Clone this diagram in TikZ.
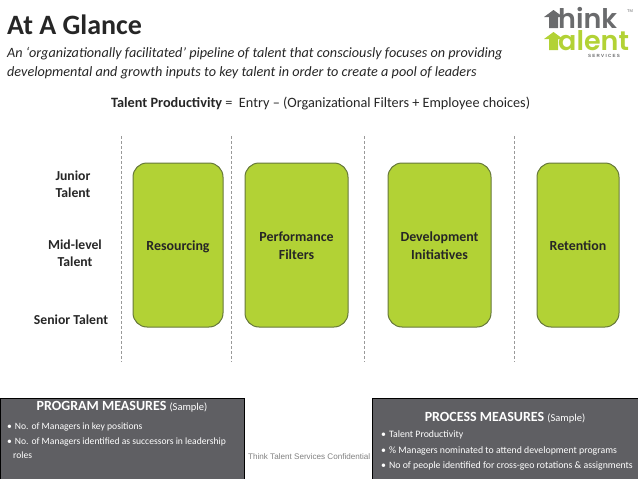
\documentclass[tikz,border=0pt]{standalone}
\usepackage{fontspec}
\setmainfont{Carlito}
\newfontfamily\arialf{Liberation Sans}
\newfontfamily\logof{Poppins SemiBold}
\definecolor{lime}{HTML}{B2D235}
\definecolor{limeedge}{HTML}{66783A}
\definecolor{panel}{HTML}{5F5F63}
\definecolor{ink}{HTML}{262626}
\definecolor{logogrey}{HTML}{6A6B6D}
\tikzset{
  x=1pt,y=-1pt,
  stage/.style={draw=limeedge,line width=1pt,fill=lime,rounded corners=14pt,minimum height=164pt,inner sep=0pt,align=center,text=ink,font=\fontsize{13.9}{18}\selectfont\bfseries},
  divider/.style={draw=gray!80,line width=0.7pt,densely dashed},
  rowlabel/.style={align=center,text=ink,font=\fontsize{13.7}{17.5}\selectfont\bfseries},
  panelbox/.style={draw=black,line width=1pt,fill=panel,inner sep=0pt,anchor=north west},
  paneltitle/.style={text=white,font=\fontsize{14}{16}\selectfont,inner sep=0pt},
  bullet/.style={text=white,anchor=west,inner sep=0pt,align=left,font=\fontsize{9.6}{14}\selectfont},
  lineitalic/.style={anchor=west,inner sep=0pt,font=\fontsize{14.2}{17}\selectfont\itshape,text=ink},
}
\begin{document}
\begin{tikzpicture}
\useasboundingbox (0,0) rectangle (638,479);
\node[anchor=west,inner sep=0pt,font=\fontsize{28}{30}\selectfont\bfseries,text=ink] (title) at (7,25) {At A Glance};
\node[lineitalic] (sub1) at (7,53.5) {An ‘organizationally facilitated’ pipeline of talent that consciously focuses on providing};
\node[lineitalic] (sub2) at (7,72.5) {developmental and growth inputs to key talent in order to create a pool of leaders};
\node[anchor=west,inner sep=0pt,font=\fontsize{14.25}{17}\selectfont,text=ink] (formula) at (111,104) {\textbf{Talent Productivity} =\ \ Entry – (Organizational Filters + Employee choices)};

% logo
\fill[logogrey] (549,28) -- (549,17) -- (544,17) -- (553.5,10) -- (563,17) -- (558,17) -- (558,28) -- cycle;
\fill[lime] (549,50) -- (549,39) -- (544,39) -- (553.5,32) -- (563,39) -- (558,39) -- (558,50) -- cycle;
\node[anchor=base west,inner sep=0pt,text=logogrey,font=\fontsize{27}{27}\logof] (logo1) at (558,28) {hink};
\node[anchor=base west,inner sep=0pt,text=lime,font=\fontsize{27}{27}\logof] (logo2) at (558,50) {alent};
\node[anchor=center,inner sep=0pt,text=logogrey,font=\fontsize{4.5}{4.5}\arialf\bfseries] (logo3) at (604,55.5) {S E R V I C E S};
\node[anchor=center,inner sep=0pt,text=logogrey,font=\fontsize{4}{4}\arialf] (logo4) at (630,11) {TM};

% dividers
\coordinate (d1a) at (121,136); \coordinate (d1b) at (121,362);
\coordinate (d2a) at (231,136); \coordinate (d2b) at (231,362);
\coordinate (d3a) at (364,136); \coordinate (d3b) at (364,362);
\coordinate (d4a) at (514,136); \coordinate (d4b) at (514,362);
\draw[divider] (d1a) -- (d1b);
\draw[divider] (d2a) -- (d2b);
\draw[divider] (d3a) -- (d3b);
\draw[divider] (d4a) -- (d4b);

% stages
\node[stage,minimum width=90pt] (res) at (178,245) {\raisebox{-5pt}[0pt][0pt]{Resourcing}};
\node[stage,minimum width=103pt] (perf) at (296.5,245) {\raisebox{-5.5pt}[0pt][0pt]{\begin{tabular}{@{}c@{}}Performance\\Filters\end{tabular}}};
\node[stage,minimum width=103pt] (dev) at (439.5,245) {\raisebox{-5.5pt}[0pt][0pt]{\begin{tabular}{@{}c@{}}Development\\Initiatives\end{tabular}}};
\node[stage,minimum width=82pt] (ret) at (578,245) {\raisebox{-5pt}[0pt][0pt]{Retention}};

% rows
\node[rowlabel] (junior) at (73,184) {Junior\\Talent};
\node[rowlabel] (mid) at (75,253) {Mid-level\\Talent};
\node[rowlabel] (senior) at (71,320) {Senior Talent};

% panels
\node[panelbox,minimum width=244pt,minimum height=81pt] (prog) at (0,398) {};
\node[paneltitle] (progt) at (122,407) {\textbf{PROGRAM MEASURES} {\fontsize{10.5}{12}\selectfont(Sample)}};
\node[bullet] (p1) at (7,427) {•\hspace{3pt}No. of Managers in key positions};
\node[bullet] (p2) at (7,448) {•\hspace{3pt}No. of Managers identified as successors in leadership\\\hspace*{6pt}roles};

\node[panelbox,minimum width=266pt,minimum height=81pt] (proc) at (372,398) {};
\node[paneltitle] (proct) at (505,417.5) {\textbf{PROCESS MEASURES} {\fontsize{10.5}{12}\selectfont(Sample)}};
\node[bullet,font=\fontsize{9.8}{13}\selectfont] (q1) at (381,435) {•\hspace{3pt}Talent Productivity};
\node[bullet,font=\fontsize{9.8}{13}\selectfont] (q2) at (381,451) {•\hspace{3pt}\% Managers nominated to attend development programs};
\node[bullet,font=\fontsize{9.8}{13}\selectfont] (q3) at (381,466) {•\hspace{3pt}No of people identified for cross-geo rotations \& assignments};

\node[anchor=west,inner sep=0pt,text=gray,font=\fontsize{8.1}{10}\arialf] (conf) at (248,457) {Think Talent Services Confidential};
\end{tikzpicture}
\end{document}
